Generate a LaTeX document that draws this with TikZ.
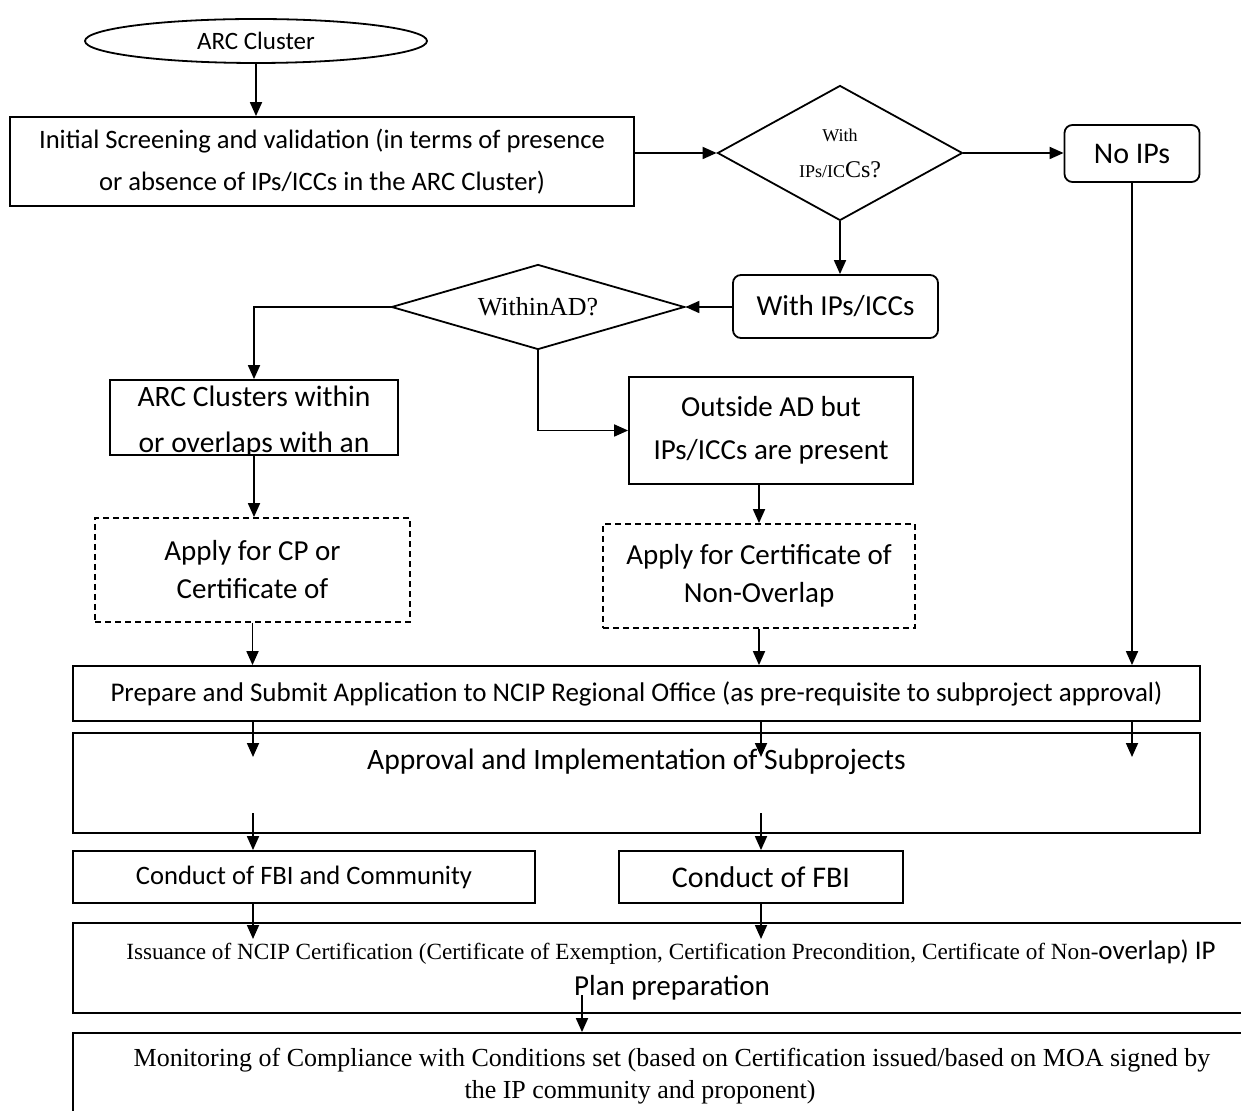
\documentclass[tikz,border=0pt]{standalone}
\usepackage{fontspec}
\setmainfont{Liberation Serif}
\newfontfamily\calfont{Carlito}
\usetikzlibrary{shapes.geometric,arrows.meta}
\begin{document}
\begin{tikzpicture}[x=0.5pt,y=-0.5pt,
  line width=0.9pt,
  arr/.style={-{Triangle[length=7pt,width=6pt]}},
  box/.style={draw, rectangle, inner sep=0pt, align=center},
  rbox/.style={box, rounded corners=4pt},
  dbox/.style={box, dash pattern=on 3pt off 2pt},
  dia/.style={draw, diamond, inner sep=0pt, align=center},
  lbl/.style={inner sep=0pt, align=center}
]
\fill[white] (0,0) rectangle (1241,1111);
\useasboundingbox (0,0) rectangle (1241,1111);

% top
\node[draw, ellipse, minimum width=171pt, minimum height=22pt, inner sep=0pt,
  font=\calfont\fontsize{12.5}{14}\selectfont] (arc) at (256,41) {ARC Cluster};
\node[box, minimum width=312pt, minimum height=44.5pt,
  font=\calfont\fontsize{13.3}{21}\selectfont] (init) at (322,161.5)
  {Initial Screening and validation (in terms of presence\\or absence of IPs/ICCs in the ARC Cluster)};

\node[dia, minimum width=122.5pt, minimum height=67.5pt] (d1) at (840,153) {};
\node[lbl, font=\fontsize{9}{10}\selectfont] (d1a) at (840,135) {With};
\node[lbl] (d1b) at (840,170) {{\fontsize{9}{10}\selectfont IPs/IC}{\fontsize{12}{13}\selectfont Cs?}};

\node[rbox, minimum width=67.5pt, minimum height=28.5pt,
  font=\calfont\fontsize{15}{17}\selectfont] (noips) at (1132,153.5) {No IPs};
\node[rbox, minimum width=102.5pt, minimum height=31.5pt,
  font=\calfont\fontsize{14.5}{16}\selectfont] (withips) at (835.5,306.5) {With IPs/ICCs};

\node[dia, minimum width=146.5pt, minimum height=42.5pt] (d2) at (538,307) {};
\node[lbl, font=\fontsize{13}{15}\selectfont] (d2t) at (538,307) {WithinAD?};

% middle
\node[box, minimum width=144pt, minimum height=37.5pt] (arcw) at (254,417.5) {};
\begin{scope}
  \clip (arcw.south west) rectangle (arcw.north east);
  \node[lbl, anchor=base, font=\calfont\fontsize{14.8}{16}\selectfont] (arcwa) at (254,407) {ARC Clusters within};
  \node[lbl, anchor=base, font=\calfont\fontsize{14.8}{16}\selectfont] (arcwb) at (254,453) {or overlaps with an};
\end{scope}

\node[box, minimum width=142pt, minimum height=53.5pt,
  font=\calfont\fontsize{14.5}{21.5}\selectfont] (outside) at (771,430.5)
  {Outside AD but\\IPs/ICCs are present};

\node[dbox, minimum width=157.5pt, minimum height=52pt,
  font=\calfont\fontsize{14.5}{19}\selectfont] (dash1) at (252.5,570)
  {Apply for CP or\\Certificate of};
\node[dbox, minimum width=156pt, minimum height=52pt,
  font=\calfont\fontsize{14.5}{19}\selectfont] (dash2) at (759,576)
  {Apply for Certificate of\\Non-Overlap};

% bottom
\node[box, minimum width=563.5pt, minimum height=27.5pt,
  font=\calfont\fontsize{13.5}{15}\selectfont] (prepare) at (636.5,693.5)
  {Prepare and Submit Application to NCIP Regional Office (as pre-requisite to subproject approval)};

\node[box, minimum width=563.5pt, minimum height=50pt] (approval) at (636.5,783) {};
\node[lbl, font=\calfont\fontsize{14.8}{16}\selectfont] (approvalt) at (636.5,762)
  {Approval and Implementation of Subprojects};

\node[box, minimum width=231pt, minimum height=26pt,
  font=\calfont\fontsize{13.3}{15}\selectfont] (cond1) at (304,877) {Conduct of FBI and Community};
\node[box, minimum width=142pt, minimum height=26pt,
  font=\calfont\fontsize{15}{17}\selectfont] (cond2) at (761,877) {Conduct of FBI};

\node[box, minimum width=598.5pt, minimum height=45pt] (issuance) at (671.5,968) {};
\node[lbl, font=\fontsize{11.6}{14}\selectfont] (issa) at (671,952)
  {Issuance of NCIP Certification (Certificate of Exemption, Certification Precondition, Certificate of Non-{\calfont\fontsize{13.5}{14}\selectfont overlap) IP}};
\node[lbl, font=\calfont\fontsize{14.5}{16}\selectfont] (issb) at (672,988) {Plan preparation};

\node[box, minimum width=598.5pt, minimum height=48.5pt] (monitor) at (671.5,1081.5) {};
\node[lbl, font=\fontsize{13}{15}\selectfont] (mona) at (672,1060)
  {Monitoring of Compliance with Conditions set (based on Certification issued/based on MOA signed by};
\node[lbl, font=\fontsize{13}{15}\selectfont] (monb) at (640,1092) {the IP community and proponent)};

% inner coordinates
\coordinate (p1) at (253,757);
\coordinate (p2) at (761,757);
\coordinate (p3) at (1132,757);
\coordinate (q1) at (253,813);
\coordinate (q2) at (761,813);
\coordinate (r1) at (253,939);
\coordinate (r2) at (761,939);
\coordinate (s1) at (582,995);

% connectors
\draw[arr] (arc.south) -- (arc.south |- init.north);
\draw[arr] (init.east |- d1.west) -- (d1.west);
\draw[arr] (d1.east) -- (noips.west |- d1.east);
\draw[arr] (d1.south) -- (d1.south |- withips.north);
\draw[arr] (withips.west |- d2.east) -- (d2.east);
\draw[arr] (d2.west) -| (arcw.north);
\draw[arr] (d2.south) |- (outside.west);
\draw[arr] (arcw.south) -- (arcw.south |- dash1.north);
\draw[arr] (dash2.north |- outside.south) -- (dash2.north);
\draw[arr] (dash1.south) -- (dash1.south |- prepare.north);
\draw[arr] (dash2.south) -- (dash2.south |- prepare.north);
\draw[arr] (noips.south) -- (noips.south |- prepare.north);
\draw[arr] (p1 |- prepare.south) -- (p1);
\draw[arr] (p2 |- prepare.south) -- (p2);
\draw[arr] (p3 |- prepare.south) -- (p3);
\draw[arr] (q1) -- (q1 |- cond1.north);
\draw[arr] (q2) -- (q2 |- cond2.north);
\draw[arr] (r1 |- cond1.south) -- (r1);
\draw[arr] (r2 |- cond2.south) -- (r2);
\draw[arr] (s1) -- (s1 |- monitor.north);
\end{tikzpicture}
\end{document}
